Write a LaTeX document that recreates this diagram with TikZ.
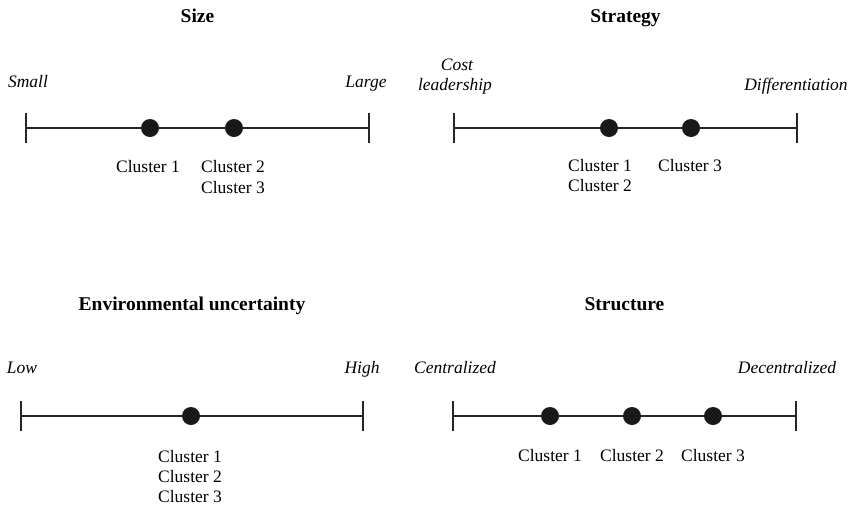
\documentclass[tikz,border=0pt]{standalone}
\usepackage{fontspec}
\setmainfont{Liberation Serif}
\begin{document}
\begin{tikzpicture}[x=1pt,y=-1pt,
  axis/.style={line width=1.4pt,color=black!85},
  tickmark/.style={line width=1.4pt,color=black!85},
  dot/.style={circle,fill=black!90,minimum size=18pt,inner sep=0pt},
  title/.style={anchor=base,inner sep=0pt,font=\fontsize{19.5}{23}\selectfont\bfseries},
  endlabel/.style={anchor=base,inner sep=0pt,font=\fontsize{17.5}{21}\selectfont\itshape},
  clabel/.style={anchor=base,inner sep=0pt,font=\fontsize{17.5}{21}\selectfont}]
\useasboundingbox (0,0) rectangle (852,507);

% ---------- Size ----------
\node[title] (t1) at (197.5,22) {Size};
\coordinate (a1l) at (26,128);
\coordinate (a1r) at (369,128);
\draw[axis] (a1l) -- (a1r);
\draw[tickmark] ([yshift=-15pt]a1l) -- ([yshift=15pt]a1l);
\draw[tickmark] ([yshift=-15pt]a1r) -- ([yshift=15pt]a1r);
\node[dot] (d11) at (150,128) {};
\node[dot] (d12) at (234,128) {};
\node[endlabel] (s1l) at (28,87) {Small};
\node[endlabel] (s1r) at (366,87) {Large};
\node[clabel] (c11) at (148,172) {Cluster 1};
\node[clabel] (c12) at (233,172) {Cluster 2};
\node[clabel] (c13) at (233,193) {Cluster 3};

% ---------- Strategy ----------
\node[title] (t2) at (625.5,22) {Strategy};
\coordinate (a2l) at (454,128);
\coordinate (a2r) at (797,128);
\draw[axis] (a2l) -- (a2r);
\draw[tickmark] ([yshift=-15pt]a2l) -- ([yshift=15pt]a2l);
\draw[tickmark] ([yshift=-15pt]a2r) -- ([yshift=15pt]a2r);
\node[dot] (d21) at (609,128) {};
\node[dot] (d22) at (691,128) {};
\node[endlabel] (s2a) at (457,70) {Cost};
\node[endlabel] (s2b) at (455,90) {leadership};
\node[endlabel] (s2r) at (796,90) {Differentiation};
\node[clabel] (c21) at (600,171) {Cluster 1};
\node[clabel] (c22) at (600,191) {Cluster 2};
\node[clabel] (c23) at (690,171) {Cluster 3};

% ---------- Environmental uncertainty ----------
\node[title] (t3) at (192,310) {Environmental uncertainty};
\coordinate (a3l) at (21,416);
\coordinate (a3r) at (363,416);
\draw[axis] (a3l) -- (a3r);
\draw[tickmark] ([yshift=-15pt]a3l) -- ([yshift=15pt]a3l);
\draw[tickmark] ([yshift=-15pt]a3r) -- ([yshift=15pt]a3r);
\node[dot] (d31) at (191,416) {};
\node[endlabel] (s3l) at (22,373) {Low};
\node[endlabel] (s3r) at (362,373) {High};
\node[clabel] (c31) at (190,462) {Cluster 1};
\node[clabel] (c32) at (190,482) {Cluster 2};
\node[clabel] (c33) at (190,502) {Cluster 3};

% ---------- Structure ----------
\node[title] (t4) at (624.5,310) {Structure};
\coordinate (a4l) at (453,416);
\coordinate (a4r) at (796,416);
\draw[axis] (a4l) -- (a4r);
\draw[tickmark] ([yshift=-15pt]a4l) -- ([yshift=15pt]a4l);
\draw[tickmark] ([yshift=-15pt]a4r) -- ([yshift=15pt]a4r);
\node[dot] (d41) at (550,416) {};
\node[dot] (d42) at (632,416) {};
\node[dot] (d43) at (713,416) {};
\node[endlabel] (s4l) at (455,373) {Centralized};
\node[endlabel] (s4r) at (787,373) {Decentralized};
\node[clabel] (c41) at (550,461) {Cluster 1};
\node[clabel] (c42) at (632,461) {Cluster 2};
\node[clabel] (c43) at (713,461) {Cluster 3};
\end{tikzpicture}
\end{document}
